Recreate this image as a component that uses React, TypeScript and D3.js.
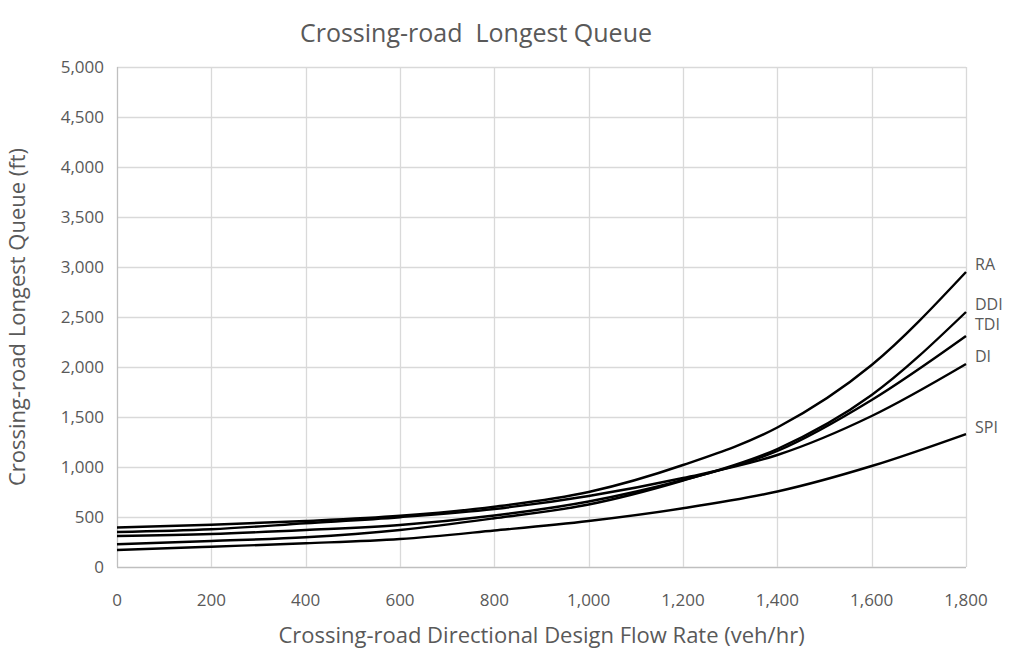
import { useEffect, useRef } from "react";
import * as d3 from "d3";

// flow rate (veh/hr)
const flows = [0, 200, 400, 600, 800, 1000, 1200, 1400, 1600, 1800];

// longest queue (ft) per interchange type
const raQueue = [395, 423, 460, 512, 603, 750, 1020, 1395, 2020, 2950];
const diQueue = [350, 377, 437, 498, 580, 710, 890, 1120, 1510, 2030];
const tdiQueue = [310, 330, 370, 420, 515, 655, 870, 1160, 1670, 2310];
const ddiQueue = [227, 260, 297, 370, 487, 625, 865, 1180, 1720, 2550];
const spiQueue = [170, 203, 237, 280, 365, 460, 587, 755, 1010, 1330];

const seriesNames = ["RA", "DDI", "TDI", "DI", "SPI"];
const xTicks = [0, 200, 400, 600, 800, 1000, 1200, 1400, 1600, 1800];
const yTicks = [0, 500, 1000, 1500, 2000, 2500, 3000, 3500, 4000, 4500, 5000];

const FONT = "'Open Sans', 'Noto Sans', sans-serif";
const TEXT = "#595959";

export default function App() {
  const svgRef = useRef<SVGSVGElement>(null);

  useEffect(() => {
    document.body.style.margin = "0";
    const width = 1013;
    const height = 652;
    const margin = { left: 117, right: 47, top: 67, bottom: 85 };

    const svg = d3.select(svgRef.current).attr("width", width).attr("height", height);
    svg.selectAll("*").remove();

    const xScale = d3.scaleLinear().domain([0, 1800]).range([margin.left, width - margin.right]);
    const yScale = d3.scaleLinear().domain([0, 5000]).range([height - margin.bottom, margin.top]);

    // grid
    const grid = svg.append("g");
    grid
      .selectAll("line.h")
      .data(yTicks)
      .join("line")
      .attr("x1", xScale(0))
      .attr("x2", xScale(1800))
      .attr("y1", (d) => Math.round(yScale(d)) + 0.5)
      .attr("y2", (d) => Math.round(yScale(d)) + 0.5)
      .attr("stroke", (d) => (d === 0 ? "#bfbfbf" : "#d9d9d9"))
      .attr("stroke-width", 1.3);
    grid
      .selectAll("line.v")
      .data(xTicks)
      .join("line")
      .attr("y1", yScale(0))
      .attr("y2", yScale(5000))
      .attr("x1", (d) => Math.round(xScale(d)) + 0.5)
      .attr("x2", (d) => Math.round(xScale(d)) + 0.5)
      .attr("stroke", (d) => (d === 0 ? "#bfbfbf" : "#d9d9d9"))
      .attr("stroke-width", 1.3);

    // tick labels
    const fmt = d3.format(",");
    svg
      .append("g")
      .selectAll("text")
      .data(yTicks)
      .join("text")
      .attr("x", xScale(0) - 13)
      .attr("y", (d) => yScale(d))
      .attr("dy", "0.35em")
      .attr("text-anchor", "end")
      .attr("font-family", FONT)
      .attr("font-size", 17)
      .attr("fill", TEXT)
      .text((d) => fmt(d));

    svg
      .append("g")
      .selectAll("text")
      .data(xTicks)
      .join("text")
      .attr("x", (d) => xScale(d))
      .attr("y", yScale(0) + 39)
      .attr("text-anchor", "middle")
      .attr("font-family", FONT)
      .attr("font-size", 17)
      .attr("fill", TEXT)
      .text((d) => fmt(d));

    // lines
    const series = [raQueue, ddiQueue, tdiQueue, diQueue, spiQueue];
    const line = d3
      .line<number>()
      .x((_, i) => xScale(flows[i]))
      .y((d) => yScale(d))
      .curve(d3.curveMonotoneX);

    svg
      .append("g")
      .selectAll("path")
      .data(series)
      .join("path")
      .attr("d", (d) => line(d))
      .attr("fill", "none")
      .attr("stroke", "#000")
      .attr("stroke-width", 2.4);

    // series labels at line ends
    const nudge: Record<string, number> = { RA: -8, DDI: -8, TDI: -12, DI: -8, SPI: -7 };
    svg
      .append("g")
      .selectAll("text")
      .data(series)
      .join("text")
      .attr("x", xScale(1800) + 9)
      .attr("y", (d, i) => yScale(d[d.length - 1]) + nudge[seriesNames[i]])
      .attr("dy", "0.35em")
      .attr("font-family", FONT)
      .attr("font-size", 16)
      .attr("fill", TEXT)
      .text((_, i) => seriesNames[i]);

    // titles
    svg
      .append("text")
      .attr("x", 476)
      .attr("y", 42)
      .attr("text-anchor", "middle")
      .attr("font-family", FONT)
      .attr("font-size", 25)
      .attr("fill", TEXT)
      .style("white-space", "pre")
      .text("Crossing-road  Longest Queue");

    svg
      .append("text")
      .attr("x", (xScale(0) + xScale(1800)) / 2)
      .attr("y", 643)
      .attr("text-anchor", "middle")
      .attr("font-family", FONT)
      .attr("font-size", 22)
      .attr("fill", TEXT)
      .text("Crossing-road Directional Design Flow Rate (veh/hr)");

    svg
      .append("text")
      .attr("transform", `translate(25, ${(yScale(0) + yScale(5000)) / 2}) rotate(-90)`)
      .attr("text-anchor", "middle")
      .attr("font-family", FONT)
      .attr("font-size", 22)
      .attr("fill", TEXT)
      .text("Crossing-road Longest Queue (ft)");
  }, []);

  return <svg ref={svgRef} style={{ display: "block", background: "#fff" }}></svg>;
}
